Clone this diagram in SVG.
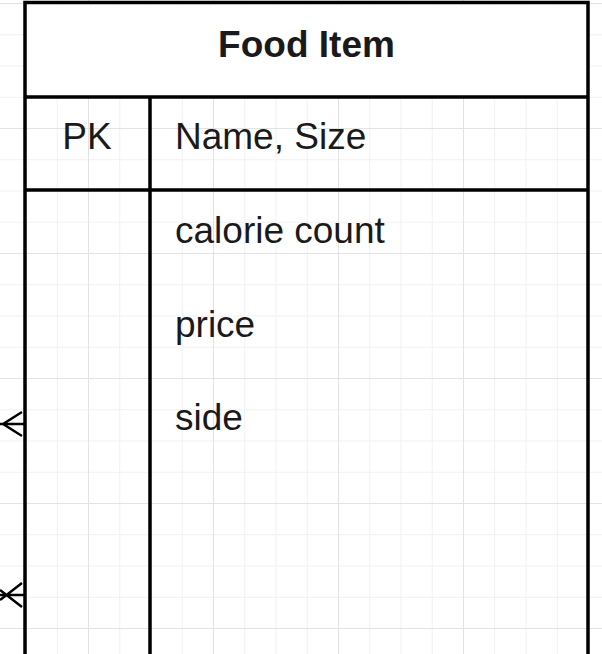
<svg xmlns="http://www.w3.org/2000/svg" width="602" height="654" viewBox="0 0 602 654">
<defs>
<pattern id="minor" x="25.5" y="3" width="31.25" height="31.25" patternUnits="userSpaceOnUse">
<path d="M0 0H31.25M0 0V31.25" fill="none" stroke="#f1f1f1" stroke-width="2"/>
</pattern>
<pattern id="major" x="88" y="3" width="125" height="125" patternUnits="userSpaceOnUse">
<path d="M0 0H125M0 0V125" fill="none" stroke="#e3e3e3" stroke-width="2"/>
</pattern>
</defs>
<style>
.t{font-family:"Liberation Sans",Arial,sans-serif;font-size:37px;fill:#1a1a1a}
.b{font-weight:bold}
.ln{stroke:#000;stroke-width:3.5;fill:none}
.edge{stroke:#000;stroke-width:2.5;fill:none}
</style>
<rect width="602" height="654" fill="#fff"/>
<rect width="602" height="654" fill="url(#minor)"/>
<rect width="602" height="654" fill="url(#major)"/>
<g id="connectors">
<g id="edge-1">
<path class="edge" d="M0 424H25M3 424L22 412M3 424L22 436"/>
</g>
<g id="edge-2">
<path class="edge" d="M0 595H25M22 583L0 600M22 607L0 590"/>
</g>
</g>
<g id="food-item">
<rect x="25" y="2.5" width="563" height="94.5" fill="#fff"/>
<path class="ln" d="M25 660V2.5H588V660M25 97H588M25 190H588M150 97V660"/>
<text class="t b" x="306.5" y="57" text-anchor="middle">Food Item</text>
<text class="t" x="87" y="149" text-anchor="middle">PK</text>
<text class="t" x="175" y="149">Name, Size</text>
<text class="t" x="175" y="243">calorie count</text>
<text class="t" x="175" y="336.5">price</text>
<text class="t" x="175" y="430">side</text>
</g>
</svg>
